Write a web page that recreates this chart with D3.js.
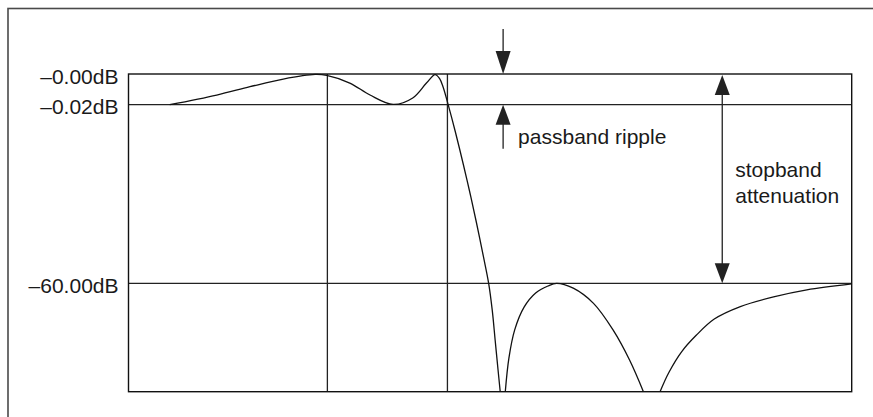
<!DOCTYPE html>
<meta charset="utf-8">
<script src="https://d3js.org/d3.v7.min.js"></script>
<style>
  body { margin: 0; background: #fff; }
  text { font-family: "Liberation Sans", Arial, sans-serif; font-size: 21px; fill: #1a1a1a; }
</style>
<div id="main"></div>
<script>

var width = 873
var height = 417

// frequency as a fraction of nyquist, gain in dB (null = break at a null)
var freq = [0.057, 0.122, 0.168, 0.214, 0.258, 0.274, 0.306, 0.334, 0.366, 0.393, 0.412, 0.424, 0.430, 0.435, 0.442,
            0.452, 0.463, 0.472, 0.481, 0.491, 0.498, 0.503, 0.507, 0.511, 0.514,
            0.517,
            0.521, 0.526, 0.534, 0.547, 0.563, 0.580, 0.592, 0.615, 0.643, 0.670, 0.693, 0.712,
            0.724,
            0.735, 0.747, 0.765, 0.785, 0.810, 0.846, 0.892, 0.938, 1.0]
var gain = [-0.02, -0.0137, -0.0083, -0.0033, -0.0003, -0.0009, -0.0059, -0.0137, -0.0198, -0.0156, -0.0059, -0.0004, -0.0029, -0.0085, -0.02,
            -9.2, -20.1, -29.5, -39.5, -51.3, -60, -65, -70.5, -76, -80,
            null,
            -80, -73.8, -68.6, -64.4, -61.8, -60.5, -60.0, -60.9, -63.7, -68.6, -74.2, -80,
            null,
            -80, -76.5, -72.6, -69.6, -66.6, -64.3, -62.5, -61.2, -60.1]

var tickValues = [0, -0.02, -60]
var tickLabels = ["\u20130.00dB", "\u20130.02dB", "\u201360.00dB"]
var cutoffs = [0.275, 0.441]   // passband edge, stopband-side edge

var data = freq.map(function(f, i) { return {f: f, db: gain[i]} })

// plot box (note: "top" is taken by window.top, so prefix everything)
var pLeft = 128.5, pRight = 851.7, pTop = 74, pBottom = 391.7

var x = d3.scaleLinear().domain([0, 1]).range([pLeft, pRight])
// schematic piecewise dB axis
var y = d3.scaleLinear().domain([0, -0.02, -60, -80]).range([pTop, 104.7, 283.3, pBottom])

var svg = d3.select("#main")
  .append("svg")
    .attr("width", width)
    .attr("height", height)

// outer frame (only top and left visible)
svg.append("rect")
    .attr("x", 8).attr("y", 8.5)
    .attr("width", 900).attr("height", 450)
    .attr("fill", "none")
    .attr("stroke", "#4a4a4a")
    .attr("stroke-width", 1.6)

var g = svg.append("g")

// horizontal lines
g.selectAll(".hline")
  .data(tickValues.slice(1))
  .enter()
  .append("line")
    .attr("x1", pLeft).attr("x2", pRight)
    .attr("y1", d => y(d)).attr("y2", d => y(d))
    .attr("stroke", "#222")
    .attr("stroke-width", 1.3)

// vertical lines
g.selectAll(".vline")
  .data(cutoffs)
  .enter()
  .append("line")
    .attr("x1", d => x(d)).attr("x2", d => x(d))
    .attr("y1", pTop).attr("y2", pBottom)
    .attr("stroke", "#222")
    .attr("stroke-width", 1.3)

g.append("rect")
    .attr("x", pLeft).attr("y", pTop)
    .attr("width", pRight - pLeft).attr("height", pBottom - pTop)
    .attr("fill", "none")
    .attr("stroke", "#111")
    .attr("stroke-width", 1.4)

// tick labels
g.selectAll(".lab")
  .data(tickValues)
  .enter()
  .append("text")
    .attr("x", pLeft - 10)
    .attr("y", d => y(d) + 9.5)
    .attr("text-anchor", "end")
    .text((d, i) => tickLabels[i])

// response curve
var line = d3.line()
    .defined(d => d.db !== null)
    .x(d => x(d.f))
    .y(d => y(d.db))
    .curve(d3.curveCatmullRom.alpha(0.5))

g.append("path")
    .datum(data)
    .attr("d", line)
    .attr("fill", "none")
    .attr("stroke", "#111")
    .attr("stroke-width", 1.3)

function arrowHead(px, py, dir, h) {
  // dir 1 = points down, -1 = points up
  var w = 7.5
  return "M" + (px - w) + "," + (py - dir * h) + "L" + (px + w) + "," + (py - dir * h) + "L" + px + "," + py + "Z"
}

function shaft(px, y1, y2) {
  g.append("line")
      .attr("x1", px).attr("x2", px)
      .attr("y1", y1).attr("y2", y2)
      .attr("stroke", "#222")
      .attr("stroke-width", 1.3)
}

// passband ripple arrows
var ax = x(0.518)
shaft(ax, 29, y(0) - 10)
g.append("path").attr("d", arrowHead(ax, y(0), 1, 23)).attr("fill", "#222")
shaft(ax, y(-0.02) + 10, y(-0.02) + 44)
g.append("path").attr("d", arrowHead(ax, y(-0.02), -1, 20)).attr("fill", "#222")

g.append("text")
    .attr("x", ax + 15)
    .attr("y", 144)
    .text("passband ripple")

// stopband attenuation arrow
var sx = x(0.821)
shaft(sx, y(0) + 10, y(-60) - 10)
g.append("path").attr("d", arrowHead(sx, y(0) + 1, -1, 20)).attr("fill", "#222")
g.append("path").attr("d", arrowHead(sx, y(-60), 1, 20)).attr("fill", "#222")

g.append("text")
    .attr("x", sx + 13)
    .attr("y", 177)
    .text("stopband")
g.append("text")
    .attr("x", sx + 13)
    .attr("y", 202.5)
    .text("attenuation")

</script>
